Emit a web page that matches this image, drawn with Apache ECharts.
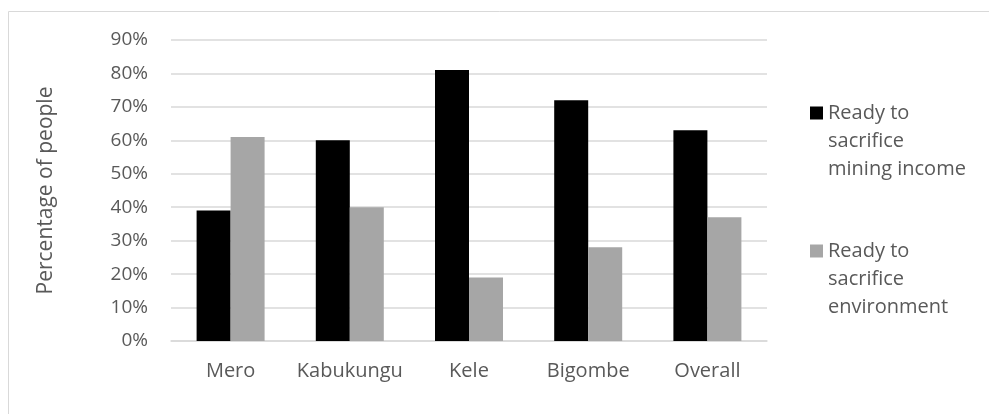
<!DOCTYPE html>
<html>
<head>
<meta charset="utf-8">
<script src="https://cdn.jsdelivr.net/npm/echarts@6/dist/echarts.min.js"></script>
<style>
  html, body { margin: 0; padding: 0; background: #fff; }
  #chart { width: 989px; height: 414px; }
</style>
</head>
<body>
<div id="chart"></div>
<script>
// data
const sites = ['Mero', 'Kabukungu', 'Kele', 'Bigombe', 'Overall'];
const miningIncome = [39, 60, 81, 72, 63];   // Ready to sacrifice mining income (%)
const environment = [61, 40, 19, 28, 37];    // Ready to sacrifice environment (%)
const seriesNames = ['Ready to\nsacrifice\nmining income', 'Ready to\nsacrifice\nenvironment'];

const textColor = '#595959';
const fontFamily = '"Open Sans", sans-serif';

const chart = echarts.init(document.getElementById('chart'));

// legend text is centred on the icon, so two blank lines above put the first line level with it
function legendLabel(name) {
    return '\n\n' + name;
}

chart.setOption({
    animation: false,
    textStyle: { fontFamily: fontFamily, color: textColor },
    graphic: [{
        type: 'rect',
        shape: { x: 8.5, y: 11.5, width: 1000, height: 500 },
        style: { fill: 'none', stroke: '#d9d9d9', lineWidth: 1 },
        silent: true
    }],
    grid: { left: 171, right: 222, top: 40, bottom: 73 },
    legend: {
        orient: 'vertical',
        left: 810,
        top: 43,
        padding: 0,
        itemWidth: 13,
        itemHeight: 13,
        itemGap: -2,
        icon: 'rect',
        selectedMode: false,
        formatter: legendLabel,
        textStyle: { fontSize: 20, lineHeight: 28, color: textColor, fontFamily: fontFamily },
        data: seriesNames
    },
    xAxis: {
        type: 'category',
        data: sites,
        axisTick: { show: false },
        axisLine: { lineStyle: { color: '#d9d9d9', width: 1.5 } },
        axisLabel: { interval: 0, fontSize: 20, color: textColor, margin: 20 }
    },
    yAxis: {
        type: 'value',
        min: 0,
        max: 90,
        interval: 10,
        name: 'Percentage of people',
        nameLocation: 'middle',
        nameGap: 114,
        nameTextStyle: { fontSize: 21, color: textColor },
        axisLine: { show: false },
        axisTick: { show: false },
        axisLabel: { formatter: '{value}%', fontSize: 19, color: textColor, margin: 23 },
        splitLine: { lineStyle: { color: '#d9d9d9', width: 1.5 } }
    },
    series: [{
        name: seriesNames[0],
        type: 'bar',
        data: miningIncome,
        barWidth: 34,
        barGap: '0%',
        itemStyle: { color: '#000000' }
    }, {
        name: seriesNames[1],
        type: 'bar',
        data: environment,
        barWidth: 34,
        itemStyle: { color: '#a6a6a6' }
    }]
});
</script>
</body>
</html>
